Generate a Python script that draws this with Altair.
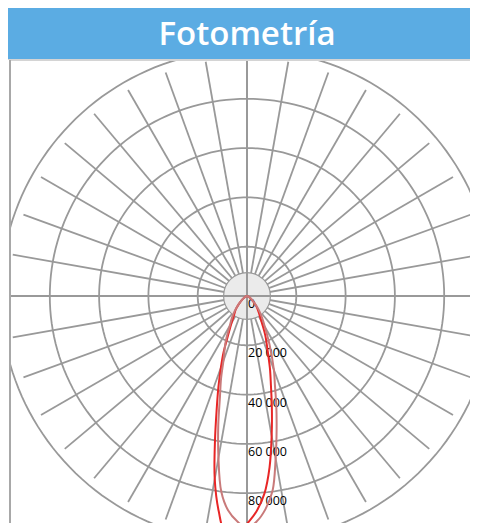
import altair as alt
import numpy as np
import pandas as pd

# ---------------- data ----------------
title_text = "Fotometría"
ring_values = [20000, 40000, 60000, 80000, 100000]
label_values = [0, 20000, 40000, 60000, 80000]
label_texts = ["0", "20 000", "40 000", "60 000", "80 000"]
spoke_angles = list(range(0, 360, 10))
inner_disc = 9500
spoke_len = 96500

# C0-C180 plane (bright red), gamma in degrees from nadir (negative = left)
gamma_a = [-90, -80, -70, -60, -50, -45, -40, -35, -30, -25, -22.5, -20, -17.5, -15,
           -12.5, -10, -7.5, -5, -2.5, 0, 2.5, 5, 7.5, 10, 12.5, 15, 17.5, 20, 25,
           30, 35, 40, 45, 50, 60, 70, 80, 90]
int_a = [0, 100, 400, 1200, 3200, 4800, 7000, 9000, 12500, 19000, 25000, 31000, 38500, 47500,
         60000, 75400, 88000, 97500, 98000, 92500, 87500, 80600, 70100, 57600, 46600, 37500, 31000, 25000, 17500,
         11500, 8500, 6500, 4600, 3000, 1200, 400, 100, 0]

# C90-C270 plane (faded red)
gamma_b = [-90, -80, -70, -60, -50, -45, -40, -35, -30, -25, -20, -17.5, -15, -12.5,
           -10, -7.5, -5, -2.5, 0, 2.5, 5, 7.5, 10, 12.5, 15, 17.5, 20, 25, 30,
           35, 40, 45, 50, 60, 70, 80, 90]
int_b = [0, 100, 400, 1300, 3200, 5000, 7500, 10500, 14000, 20500, 27900, 35000, 42400, 53900,
         66700, 80000, 87400, 91500, 94000, 91500, 86700, 79600, 66900, 55500, 45900, 37600, 31900, 21500, 14500,
         10500, 7500, 5000, 3200, 1300, 400, 100, 0]

series_names = ["C0-C180", "C90-C270"]
series_colors = ["#e82626", "#c97a7a"]

# ---------------- layout ----------------
W, H = 462, 515
CX, CY = 239, 288           # pole position inside the plot area (px)
UNIT = 20000 / 49.3         # candela per pixel
xs = alt.Scale(domain=[-CX * UNIT, (W - CX) * UNIT], nice=False, zero=False)
ys = alt.Scale(domain=[-(H - CY) * UNIT, CY * UNIT], nice=False, zero=False)
GRID = "#999999"
GW = 1.8

one = pd.DataFrame({"a": [0]})

# grid rings (sampled circle outline)
th = np.arange(0, 361, 2)
rings = pd.DataFrame([
    {"ring": r, "t": t, "x": r * np.sin(np.radians(t)), "y": r * np.cos(np.radians(t))}
    for r in ring_values for t in th
])
ring_layer = alt.Chart(rings).mark_line(stroke=GRID, strokeWidth=GW, clip=True).encode(
    x=alt.X("x:Q", scale=xs, axis=None),
    y=alt.Y("y:Q", scale=ys, axis=None),
    detail="ring:N",
    order="t:Q",
)

spokes = pd.DataFrame({"a": spoke_angles})
spoke_layer = alt.Chart(spokes).transform_calculate(
    x0="0", y0="0",
    x1=f"{spoke_len}*sin(datum.a*PI/180)",
    y1=f"{spoke_len}*cos(datum.a*PI/180)",
).mark_rule(stroke=GRID, strokeWidth=GW, clip=True).encode(
    x=alt.X("x0:Q", scale=xs, axis=None), y=alt.Y("y0:Q", scale=ys, axis=None),
    x2="x1:Q", y2="y1:Q",
)

disc_px = inner_disc / UNIT
disc_layer = alt.Chart(one).mark_point(
    shape="circle", filled=True, fill="#ebebeb", fillOpacity=1, stroke=GRID, strokeWidth=1.2,
    opacity=1, size=(2 * disc_px) ** 2,
).encode(x=alt.X(datum=0, scale=xs, axis=None), y=alt.Y(datum=0, scale=ys, axis=None))

hline = alt.Chart(one).mark_rule(stroke=GRID, strokeWidth=2).encode(
    y=alt.Y(datum=0, scale=ys, axis=None), x=alt.value(2), x2=alt.value(W))
vline = alt.Chart(one).mark_rule(stroke=GRID, strokeWidth=2).encode(
    x=alt.X(datum=0, scale=xs, axis=None), y=alt.value(52), y2=alt.value(H))

labels = pd.DataFrame({"v": label_values, "t": label_texts})
label_layer = alt.Chart(labels).transform_calculate(yv="-datum.v").mark_text(
    align="left", baseline="middle", dx=1, dy=8, fontSize=12.5, font="Open Sans", color="#000"
).encode(
    x=alt.X(datum=0, scale=xs, axis=None), y=alt.Y("yv:Q", scale=ys, axis=None), text="t:N")

curves = pd.concat([
    pd.DataFrame({"g": gamma_a, "I": int_a, "s": series_names[0]}),
    pd.DataFrame({"g": gamma_b, "I": int_b, "s": series_names[1]}),
], ignore_index=True)
curves["idx"] = range(len(curves))
curve_layer = alt.Chart(curves).transform_calculate(
    cx="datum.I*sin(datum.g*PI/180)",
    cy="-datum.I*cos(datum.g*PI/180)",
).mark_line(interpolate="catmull-rom", strokeWidth=2, clip=True).encode(
    x=alt.X("cx:Q", scale=xs, axis=None),
    y=alt.Y("cy:Q", scale=ys, axis=None),
    color=alt.Color("s:N", scale=alt.Scale(domain=series_names[::-1], range=series_colors[::-1]), legend=None),
    order="idx:Q",
)

bar = alt.Chart(one).mark_rect(color="#5BACE3").encode(
    x=alt.value(0), x2=alt.value(W), y=alt.value(0), y2=alt.value(51))
title = alt.Chart(one).mark_text(
    text=title_text, font="Open Sans", fontWeight=600, fontSize=33, color="white",
    align="center", baseline="alphabetic").encode(x=alt.value(CX), y=alt.value(37))
topline = alt.Chart(one).mark_rule(stroke="#d4d4d4", strokeWidth=2).encode(
    x=alt.value(0), x2=alt.value(W), y=alt.value(52))
leftmask = alt.Chart(one).mark_rect(color="white").encode(
    x=alt.value(0), x2=alt.value(2), y=alt.value(52), y2=alt.value(H))
leftline = alt.Chart(one).mark_rule(stroke="#a8a8a8", strokeWidth=2).encode(
    x=alt.value(2), y=alt.value(52), y2=alt.value(H))

chart = alt.layer(
    ring_layer, spoke_layer, disc_layer, hline, vline, label_layer, curve_layer,
    bar, title, topline, leftmask, leftline,
).properties(width=W, height=H, autosize="none", padding=0).configure_view(stroke=None)

chart.save("out.html", embed_options={"renderer": "svg", "actions": False})
